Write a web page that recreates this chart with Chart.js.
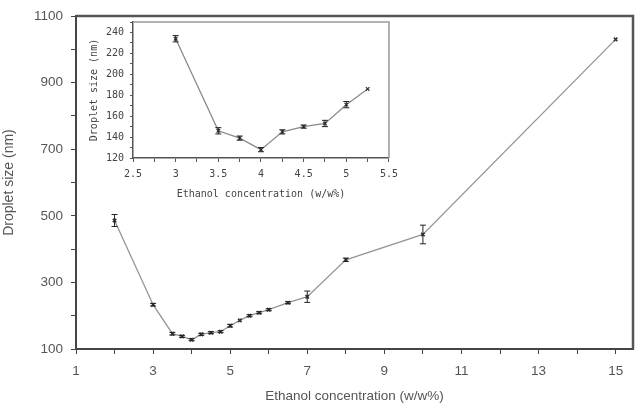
<!DOCTYPE html>
<html>
<head>
<meta charset="utf-8">
<script src="https://cdn.jsdelivr.net/npm/chart.js@4/dist/chart.umd.min.js"></script>
<style>
  html, body { margin: 0; padding: 0; background: #fff; }
  #wrap { position: relative; width: 643px; height: 408px; }
  #mainChart { position: absolute; left: 0; top: 0; }
  #insetChart { position: absolute; left: 85px; top: 10px; }
</style>
</head>
<body>
<div id="wrap">
  <canvas id="mainChart" width="643" height="408"></canvas>
  <canvas id="insetChart" width="319" height="192"></canvas>
</div>
<script>
// ============ data ============
const mainX = [2, 3, 3.5, 3.75, 4, 4.25, 4.5, 4.75, 5, 5.25, 5.5, 5.75, 6, 6.5, 7, 8, 10, 15];
const mainY = [486, 233, 146, 138, 128, 144, 149, 152, 170, 186, 200, 209, 218, 239, 257, 368, 444, 1030];
const mainErr = [18, 4, 4, 3, 3, 3, 3, 3, 4, 0, 3, 3, 3, 3, 17, 5, 28, 0];

const insetX = [3, 3.5, 3.75, 4, 4.25, 4.5, 4.75, 5, 5.25];
const insetY = [234, 146, 139, 128, 145, 150, 153, 171, 186];
const insetErr = [3, 3, 2, 2, 2, 1.5, 3, 3, 0];

const mainXTicks = [1, 2, 3, 4, 5, 6, 7, 8, 9, 10, 11, 12, 13, 14, 15];
const mainXLabels = [1, 3, 5, 7, 9, 11, 13, 15];
const mainYLabels = [100, 300, 500, 700, 900, 1100];
const insetXLabels = [2.5, 3, 3.5, 4, 4.5, 5, 5.5];
const insetYLabels = [120, 140, 160, 180, 200, 220, 240];

// draws vertical error bars from dataset.errors through the chart scales
const errorBars = {
  id: "errorBars",
  afterDatasetsDraw(chart) {
    const ctx = chart.ctx;
    const xs = chart.scales.x;
    const ys = chart.scales.y;
    const ds = chart.data.datasets[0];
    const cap = ds.capWidth || 3;
    ctx.save();
    ctx.strokeStyle = "#222";
    ctx.lineWidth = 1;
    ds.data.forEach(function (p, i) {
      const e = ds.errors[i];
      if (!e) return;
      const x = xs.getPixelForValue(p.x);
      const t = ys.getPixelForValue(p.y + e);
      const b = ys.getPixelForValue(p.y - e);
      ctx.beginPath();
      ctx.moveTo(x, t);
      ctx.lineTo(x, b);
      ctx.moveTo(x - cap, t);
      ctx.lineTo(x + cap, t);
      ctx.moveTo(x - cap, b);
      ctx.lineTo(x + cap, b);
      ctx.stroke();
    });
    ctx.restore();
  },
};

// top and right edge of the plot box
const frame = {
  id: "frame",
  beforeDatasetsDraw(chart, args, opts) {
    const a = chart.chartArea;
    const ctx = chart.ctx;
    ctx.save();
    ctx.strokeStyle = opts.color;
    ctx.lineWidth = opts.width;
    ctx.beginPath();
    ctx.moveTo(a.left, a.top);
    ctx.lineTo(a.right, a.top);
    ctx.lineTo(a.right, a.bottom);
    ctx.stroke();
    ctx.restore();
  },
};

function toPoints(xs, ys) {
  return xs.map(function (x, i) {
    return { x: x, y: ys[i] };
  });
}

function renderMain() {
  const ctx = document.getElementById("mainChart").getContext("2d");
  new Chart(ctx, {
    type: "scatter",
    data: {
      datasets: [
        {
          data: toPoints(mainX, mainY),
          errors: mainErr,
          capWidth: 3,
          showLine: true,
          borderColor: "#959595",
          borderWidth: 1.3,
          pointStyle: "crossRot",
          pointRadius: 2.5,
          pointBorderColor: "#333",
          pointBorderWidth: 1.5,
        },
      ],
    },
    options: {
      responsive: false,
      animation: false,
      events: [],
      layout: { padding: { left: 0, right: 10, top: 9, bottom: 0 } },
      scales: {
        x: {
          type: "linear",
          min: 1,
          max: 15.45,
          afterBuildTicks: function (scale) {
            scale.ticks = mainXTicks.map(function (v) {
              return { value: v };
            });
          },
          afterFit: function (scale) {
            scale.height = 59;
          },
          border: { display: true, color: "#444", width: 2 },
          grid: { drawOnChartArea: false, drawTicks: true, tickLength: 5, color: "#444" },
          ticks: {
            autoSkip: false,
            maxRotation: 0,
            padding: 9,
            color: "#555",
            font: { family: "Liberation Sans", size: 13.5 },
            callback: function (v) {
              return mainXLabels.includes(v) ? String(v) : "";
            },
          },
          title: {
            display: true,
            text: "Ethanol concentration (w/w%)",
            color: "#555",
            font: { family: "Liberation Sans", size: 13.5 },
            padding: { top: 4, bottom: 4 },
          },
        },
        y: {
          min: 100,
          max: 1100,
          afterFit: function (scale) {
            scale.width = 76;
          },
          border: { display: true, color: "#444", width: 2 },
          grid: { drawOnChartArea: false, drawTicks: true, tickLength: 5, color: "#444" },
          ticks: {
            stepSize: 100,
            autoSkip: false,
            padding: 8,
            color: "#555",
            font: { family: "Liberation Sans", size: 13.5 },
            callback: function (v) {
              return mainYLabels.includes(v) ? String(v) : "";
            },
          },
          title: {
            display: true,
            text: "Droplet size (nm)",
            color: "#555",
            font: { family: "Liberation Sans", size: 14 },
            padding: { top: 1, bottom: 1 },
          },
        },
      },
      plugins: {
        legend: { display: false },
        tooltip: { enabled: false },
        frame: { color: "#555", width: 2.5 },
      },
    },
    plugins: [errorBars, frame],
  });
}

function renderInset() {
  const ctx = document.getElementById("insetChart").getContext("2d");
  new Chart(ctx, {
    type: "scatter",
    data: {
      datasets: [
        {
          data: toPoints(insetX, insetY),
          errors: insetErr,
          capWidth: 3,
          showLine: true,
          borderColor: "#8a8a8a",
          borderWidth: 1.3,
          pointStyle: "crossRot",
          pointRadius: 2.5,
          pointBorderColor: "#333",
          pointBorderWidth: 1.2,
        },
      ],
    },
    options: {
      responsive: false,
      animation: false,
      events: [],
      layout: { padding: { left: 0, right: 9, top: 12, bottom: 0 } },
      scales: {
        x: {
          type: "linear",
          min: 2.5,
          max: 5.5,
          afterFit: function (scale) {
            scale.height = 44;
          },
          border: { display: true, color: "#555", width: 1.5 },
          grid: { drawOnChartArea: false, drawTicks: true, tickLength: 4, color: "#555" },
          ticks: {
            stepSize: 0.25,
            autoSkip: false,
            maxRotation: 0,
            padding: 6,
            color: "#444",
            font: { family: "DejaVu Sans Mono", size: 10 },
            callback: function (v) {
              return insetXLabels.includes(v) ? String(v) : "";
            },
          },
          title: {
            display: true,
            text: "Ethanol concentration (w/w%)",
            color: "#444",
            font: { family: "DejaVu Sans Mono", size: 10 },
            padding: { top: 2, bottom: 2 },
          },
        },
        y: {
          min: 120,
          max: 250,
          afterFit: function (scale) {
            scale.width = 48;
          },
          border: { display: true, color: "#555", width: 1.5 },
          grid: { drawOnChartArea: false, drawTicks: true, tickLength: 3, color: "#555" },
          ticks: {
            stepSize: 10,
            autoSkip: false,
            padding: 6,
            color: "#444",
            font: { family: "DejaVu Sans Mono", size: 10 },
            callback: function (v) {
              return insetYLabels.includes(v) ? String(v) : "";
            },
          },
          title: {
            display: true,
            text: "Droplet size (nm)",
            color: "#444",
            font: { family: "DejaVu Sans Mono", size: 10 },
            padding: { top: 3, bottom: 3 },
          },
        },
      },
      plugins: {
        legend: { display: false },
        tooltip: { enabled: false },
        frame: { color: "#999", width: 1.5 },
      },
    },
    plugins: [errorBars, frame],
  });
}

renderMain();
renderInset();
</script>
</body>
</html>
